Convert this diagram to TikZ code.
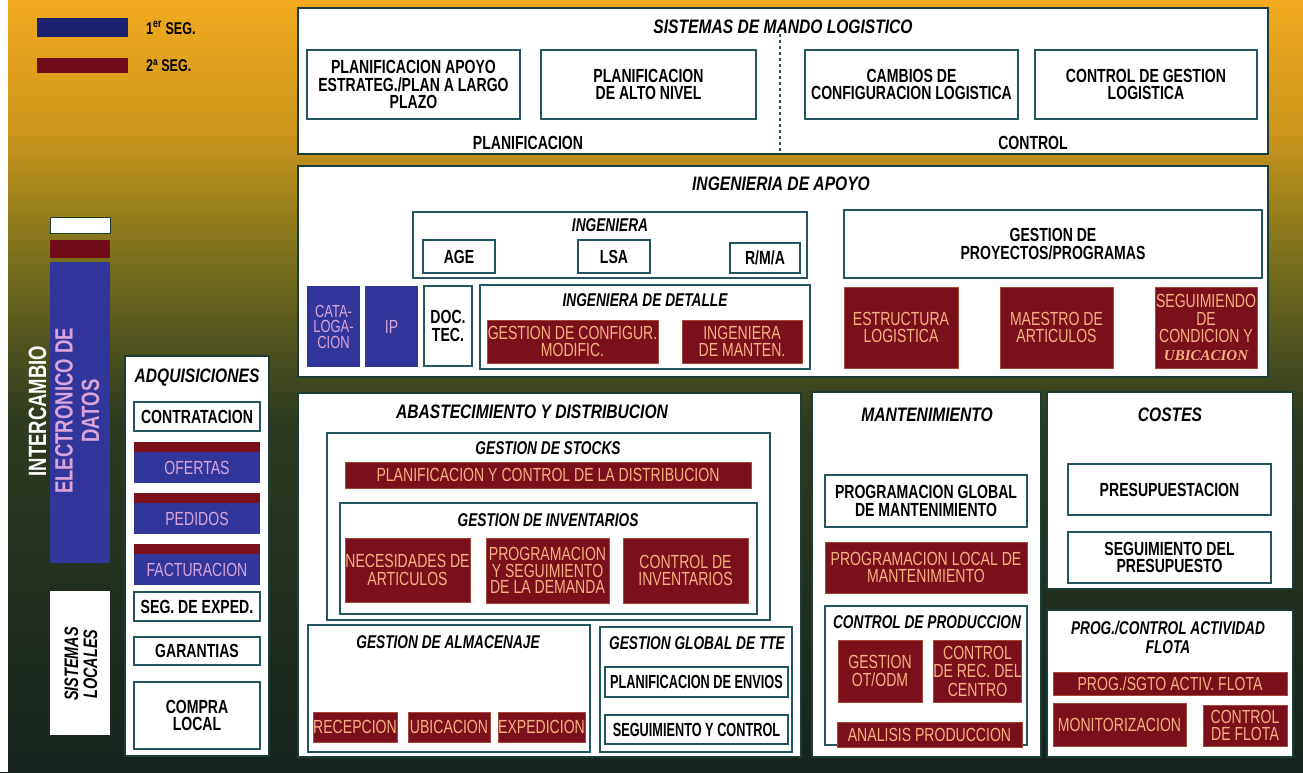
\documentclass[tikz,border=0pt]{standalone}
\usepackage{fontspec}
\setmainfont{Liberation Sans}
\newfontfamily\cfam[FakeStretch=0.74]{Liberation Sans}
\newfontfamily\nfam[FakeStretch=0.67]{Liberation Sans}
\newfontfamily\tfam[FakeStretch=0.80]{Liberation Sans}
\newfontfamily\serfam{Liberation Serif}
\newcommand\itemf{\cfam\bfseries\fontsize{19}{17.5}\selectfont}
\newcommand\itemr{\cfam\fontsize{19}{17.5}\selectfont}
\newcommand\narf{\nfam\bfseries\fontsize{19}{17.5}\selectfont}
\newcommand\titlef{\tfam\bfseries\itshape\fontsize{19.5}{21}\selectfont}
\newcommand\subtf{\cfam\bfseries\itshape\fontsize{18.5}{19}\selectfont}
\definecolor{bg0}{RGB}{242,170,30}
\definecolor{bg1}{RGB}{205,150,28}
\definecolor{bg2}{RGB}{120,112,28}
\definecolor{bg3}{RGB}{45,58,32}
\definecolor{bg4}{RGB}{22,36,30}
\definecolor{edge}{RGB}{35,85,95}
\definecolor{frameedge}{RGB}{28,60,55}
\definecolor{redf}{RGB}{122,16,28}
\definecolor{redline}{RGB}{165,70,55}
\definecolor{redt}{RGB}{246,178,128}
\definecolor{bluef}{RGB}{50,54,155}
\definecolor{bluet}{RGB}{218,165,218}
\definecolor{legblue}{RGB}{28,32,112}
\definecolor{legred}{RGB}{112,12,26}
\newcommand\bx[7]{\node[#1, minimum width={(#5)-(#3)}, minimum height={(#6)-(#4)}] (#2) at ({((#3)+(#5))/2},{((#4)+(#6))/2}) {#7};}
\begin{document}
\begin{tikzpicture}[x=1pt,y=-1pt,
  base/.style={inner sep=0pt, outer sep=0pt, align=center},
  wbox/.style={base, draw=edge, line width=1.3pt, fill=white, text=black, font=\itemf},
  nbox/.style={wbox, font=\narf},
  rbox/.style={base, draw=redline, line width=0.6pt, fill=redf, text=redt, font=\itemr},
  bbox/.style={base, fill=bluef, text=bluet, font=\itemr},
  frame/.style={base, draw=edge, line width=1.3pt, fill=white},
  big/.style={base, draw=frameedge, line width=1.6pt, fill=white},
  ttl/.style={inner sep=0pt, font=\titlef, text=black, align=center},
  sttl/.style={inner sep=0pt, font=\subtf, text=black, align=center},
  lbl/.style={inner sep=0pt, font=\itemf, text=black, align=center}]
\useasboundingbox (0,0) rectangle (1303,772);
% background
\shade[top color=bg0, bottom color=bg1] (0,0) rectangle (1303,130.5);
\shade[top color=bg1, bottom color=bg2] (0,130) rectangle (1303,260.5);
\shade[top color=bg2, bottom color=bg3] (0,260) rectangle (1303,420.5);
\shade[top color=bg3, bottom color=bg4] (0,420) rectangle (1303,772);
\fill[white] (0,0) rectangle (8,772);
% legend
\bx{base, fill=legblue}{leg1}{37}{18}{128}{37}{}
\bx{base, fill=legred}{leg2}{37}{58}{128}{73}{}
\node[lbl, anchor=west, font=\cfam\bfseries\fontsize{17}{17}\selectfont] (leg1t) at (146,28) {1\textsuperscript{er} SEG.};
\node[lbl, anchor=west, font=\cfam\bfseries\fontsize{17}{17}\selectfont] (leg2t) at (146,66) {2ª SEG.};
% EDI bar
\bx{base, fill=white, draw=frameedge, line width=1pt}{ediw}{50}{217}{110}{233}{}
\bx{base, fill=legred}{edir}{50}{240}{110}{258}{}
\bx{base, fill=bluef}{edib}{50}{262}{110}{563}{}
\node[rotate=90, align=center, inner sep=0pt, font=\cfam\bfseries\fontsize{25}{26.5}\selectfont] (edit) at (64,411) {\textcolor{white}{INTERCAMBIO}\\\textcolor{bluet}{ELECTRONICO DE}\\\textcolor{bluet}{DATOS}};
\bx{base, fill=white}{sl}{50}{591}{110}{735}{}
\node[rotate=90, align=center, inner sep=0pt, font=\cfam\bfseries\itshape\fontsize{19.5}{19}\selectfont] (slt) at (81,664) {SISTEMAS\\LOCALES};
% ADQUISICIONES
\bx{big}{adq}{125}{356}{269}{756}{}
\node[ttl] (adqt) at (197,378) {ADQUISICIONES};
\bx{wbox}{contr}{134}{402}{260}{431}{CONTRATACION}
\bx{base, fill=redf}{ofr}{134}{442}{260}{452}{}
\bx{bbox}{ofe}{134}{452}{260}{483}{OFERTAS}
\bx{base, fill=redf}{pdr}{134}{493}{260}{503}{}
\bx{bbox}{ped}{134}{503}{260}{534}{PEDIDOS}
\bx{base, fill=redf}{fcr}{134}{544}{260}{554}{}
\bx{bbox}{fac}{134}{554}{260}{585}{FACTURACION}
\bx{wbox}{sde}{134}{592}{260}{621}{SEG. DE EXPED.}
\bx{wbox}{gar}{134}{637}{260}{665}{GARANTIAS}
\bx{wbox}{cloc}{134}{682}{260}{749}{COMPRA\\LOCAL}
% SISTEMAS DE MANDO LOGISTICO
\bx{big}{smando}{298}{8}{1268}{154}{}
\node[ttl] (smandot) at (783,27) {SISTEMAS DE MANDO LOGISTICO};
\bx{wbox}{pa}{307}{50}{520}{119}{PLANIFICACION APOYO\\ESTRATEG./PLAN A LARGO\\PLAZO}
\bx{wbox}{pan}{541}{50}{756}{119}{PLANIFICACION\\DE ALTO NIVEL}
\bx{wbox}{ccl}{805}{50}{1018}{119}{CAMBIOS DE\\CONFIGURACION LOGISTICA}
\bx{wbox}{cgl}{1035}{50}{1257}{119}{CONTROL DE GESTION\\LOGISTICA}
\node[lbl] (planl) at (528,143) {PLANIFICACION};
\node[lbl] (contl) at (1033,143) {CONTROL};
\coordinate (dtop) at (780,34);
\coordinate (dbot) at (780,154);
\draw[edge, line width=1.2pt, dashed] (dtop) -- (dbot);
% INGENIERIA DE APOYO
\bx{big}{ingap}{298}{166}{1268}{377}{}
\node[ttl] (ingapt) at (781,184) {INGENIERIA DE APOYO};
\bx{frame}{ing}{413}{212}{807}{278}{}
\node[sttl] (ingt) at (610,225) {INGENIERA};
\bx{wbox}{age}{423}{240}{495}{273}{AGE}
\bx{wbox}{lsa}{578}{240}{650}{273}{LSA}
\bx{wbox}{rma}{730}{243}{800}{273}{R/M/A}
\bx{bbox, font=\cfam\fontsize{17.5}{15.5}\selectfont}{cat}{307}{286}{360}{367}{CATA-\\LOGA-\\CION}
\bx{bbox}{ip}{365}{286}{418}{367}{IP}
\bx{wbox}{doc}{424}{286}{472}{366}{DOC.\\TEC.}
\bx{frame}{idet}{480}{285}{810}{369}{}
\node[sttl] (idett) at (645,300) {INGENIERA DE DETALLE};
\bx{rbox}{gcm}{487}{320}{658}{363}{GESTION DE CONFIGUR.\\MODIFIC.}
\bx{rbox}{ima}{682}{320}{802}{363}{INGENIERA\\DE MANTEN.}
\bx{wbox}{gpp}{844}{210}{1262}{278}{GESTION DE\\PROYECTOS/PROGRAMAS}
\bx{rbox}{est}{844}{287}{958}{368}{ESTRUCTURA\\LOGISTICA}
\bx{rbox}{maes}{1000}{287}{1113}{368}{MAESTRO DE\\ARTICULOS}
\bx{rbox}{segc}{1155}{287}{1257}{368}{SEGUIMIENDO\\DE\\CONDICION Y\\{\serfam\bfseries\itshape\fontsize{15}{17}\selectfont UBICACION}}
% ABASTECIMIENTO Y DISTRIBUCION
\bx{big}{abast}{298}{393}{801}{757}{}
\node[ttl] (abastt) at (532,412) {ABASTECIMIENTO Y DISTRIBUCION};
\bx{frame}{gst}{327}{433}{770}{620}{}
\node[sttl] (gstt) at (548,448) {GESTION DE STOCKS};
\bx{rbox}{pcd}{345}{462}{751}{488}{PLANIFICACION Y CONTROL DE LA DISTRIBUCION}
\bx{frame}{ginv}{340}{503}{757}{614}{}
\node[sttl] (ginvt) at (548,520) {GESTION DE INVENTARIOS};
\bx{rbox}{nec}{345}{538}{470}{602}{NECESIDADES DE\\ARTICULOS}
\bx{rbox, font=\cfam\fontsize{19}{16.5}\selectfont}{psd}{486}{538}{609}{603}{PROGRAMACION\\Y SEGUIMIENTO\\DE LA DEMANDA}
\bx{rbox}{cinv}{623}{538}{748}{603}{CONTROL DE\\INVENTARIOS}
\bx{frame}{galm}{308}{625}{590}{752}{}
\node[sttl] (galmt) at (448,642) {GESTION DE ALMACENAJE};
\bx{rbox}{rec}{313}{712}{397}{742}{RECEPCION}
\bx{rbox}{ubi}{408}{712}{490}{742}{UBICACION}
\bx{rbox}{expd}{500}{712}{583}{742}{EXPEDICION}
\bx{frame}{gtte}{600}{627}{792}{752}{}
\node[sttl] (gttet) at (697,643) {GESTION GLOBAL DE TTE};
\bx{nbox}{pde}{605}{667}{788}{697}{PLANIFICACION DE ENVIOS}
\bx{nbox}{syc}{605}{715}{788}{744}{SEGUIMIENTO Y CONTROL}
% MANTENIMIENTO
\bx{big}{mant}{812}{392}{1041}{757}{}
\node[ttl] (mantt) at (927,415) {MANTENIMIENTO};
\bx{wbox}{pgm}{825}{475}{1027}{527}{PROGRAMACION GLOBAL\\DE MANTENIMIENTO}
\bx{rbox}{plm}{825}{542}{1027}{593}{PROGRAMACION LOCAL DE\\MANTENIMIENTO}
\bx{frame}{cprod}{825}{606}{1027}{745}{}
\node[sttl] (cprodt) at (927,622) {CONTROL DE PRODUCCION};
\bx{rbox}{got}{838}{640}{922}{702}{GESTION\\OT/ODM}
\bx{rbox, font=\cfam\fontsize{19}{18.5}\selectfont}{crc}{936}{640}{1019}{702}{CONTROL\\DE REC. DEL\\CENTRO}
\bx{rbox}{apr}{837}{722}{1022}{747}{ANALISIS PRODUCCION}
% COSTES
\bx{big}{costes}{1047}{392}{1293}{589}{}
\node[ttl] (costest) at (1170,415) {COSTES};
\bx{wbox}{pres}{1068}{464}{1271}{515}{PRESUPUESTACION}
\bx{wbox}{spr}{1068}{532}{1271}{583}{SEGUIMIENTO DEL\\PRESUPUESTO}
% PROG./CONTROL ACTIVIDAD FLOTA
\bx{big}{flota}{1047}{610}{1293}{757}{}
\node[sttl] (flotat) at (1168,637) {PROG./CONTROL ACTIVIDAD\\FLOTA};
\bx{rbox}{psaf}{1053}{672}{1287}{695}{PROG./SGTO ACTIV. FLOTA}
\bx{rbox}{mon}{1053}{703}{1186}{746}{MONITORIZACION}
\bx{rbox}{cfl}{1203}{705}{1287}{746}{CONTROL\\DE FLOTA}
\end{tikzpicture}
\end{document}
